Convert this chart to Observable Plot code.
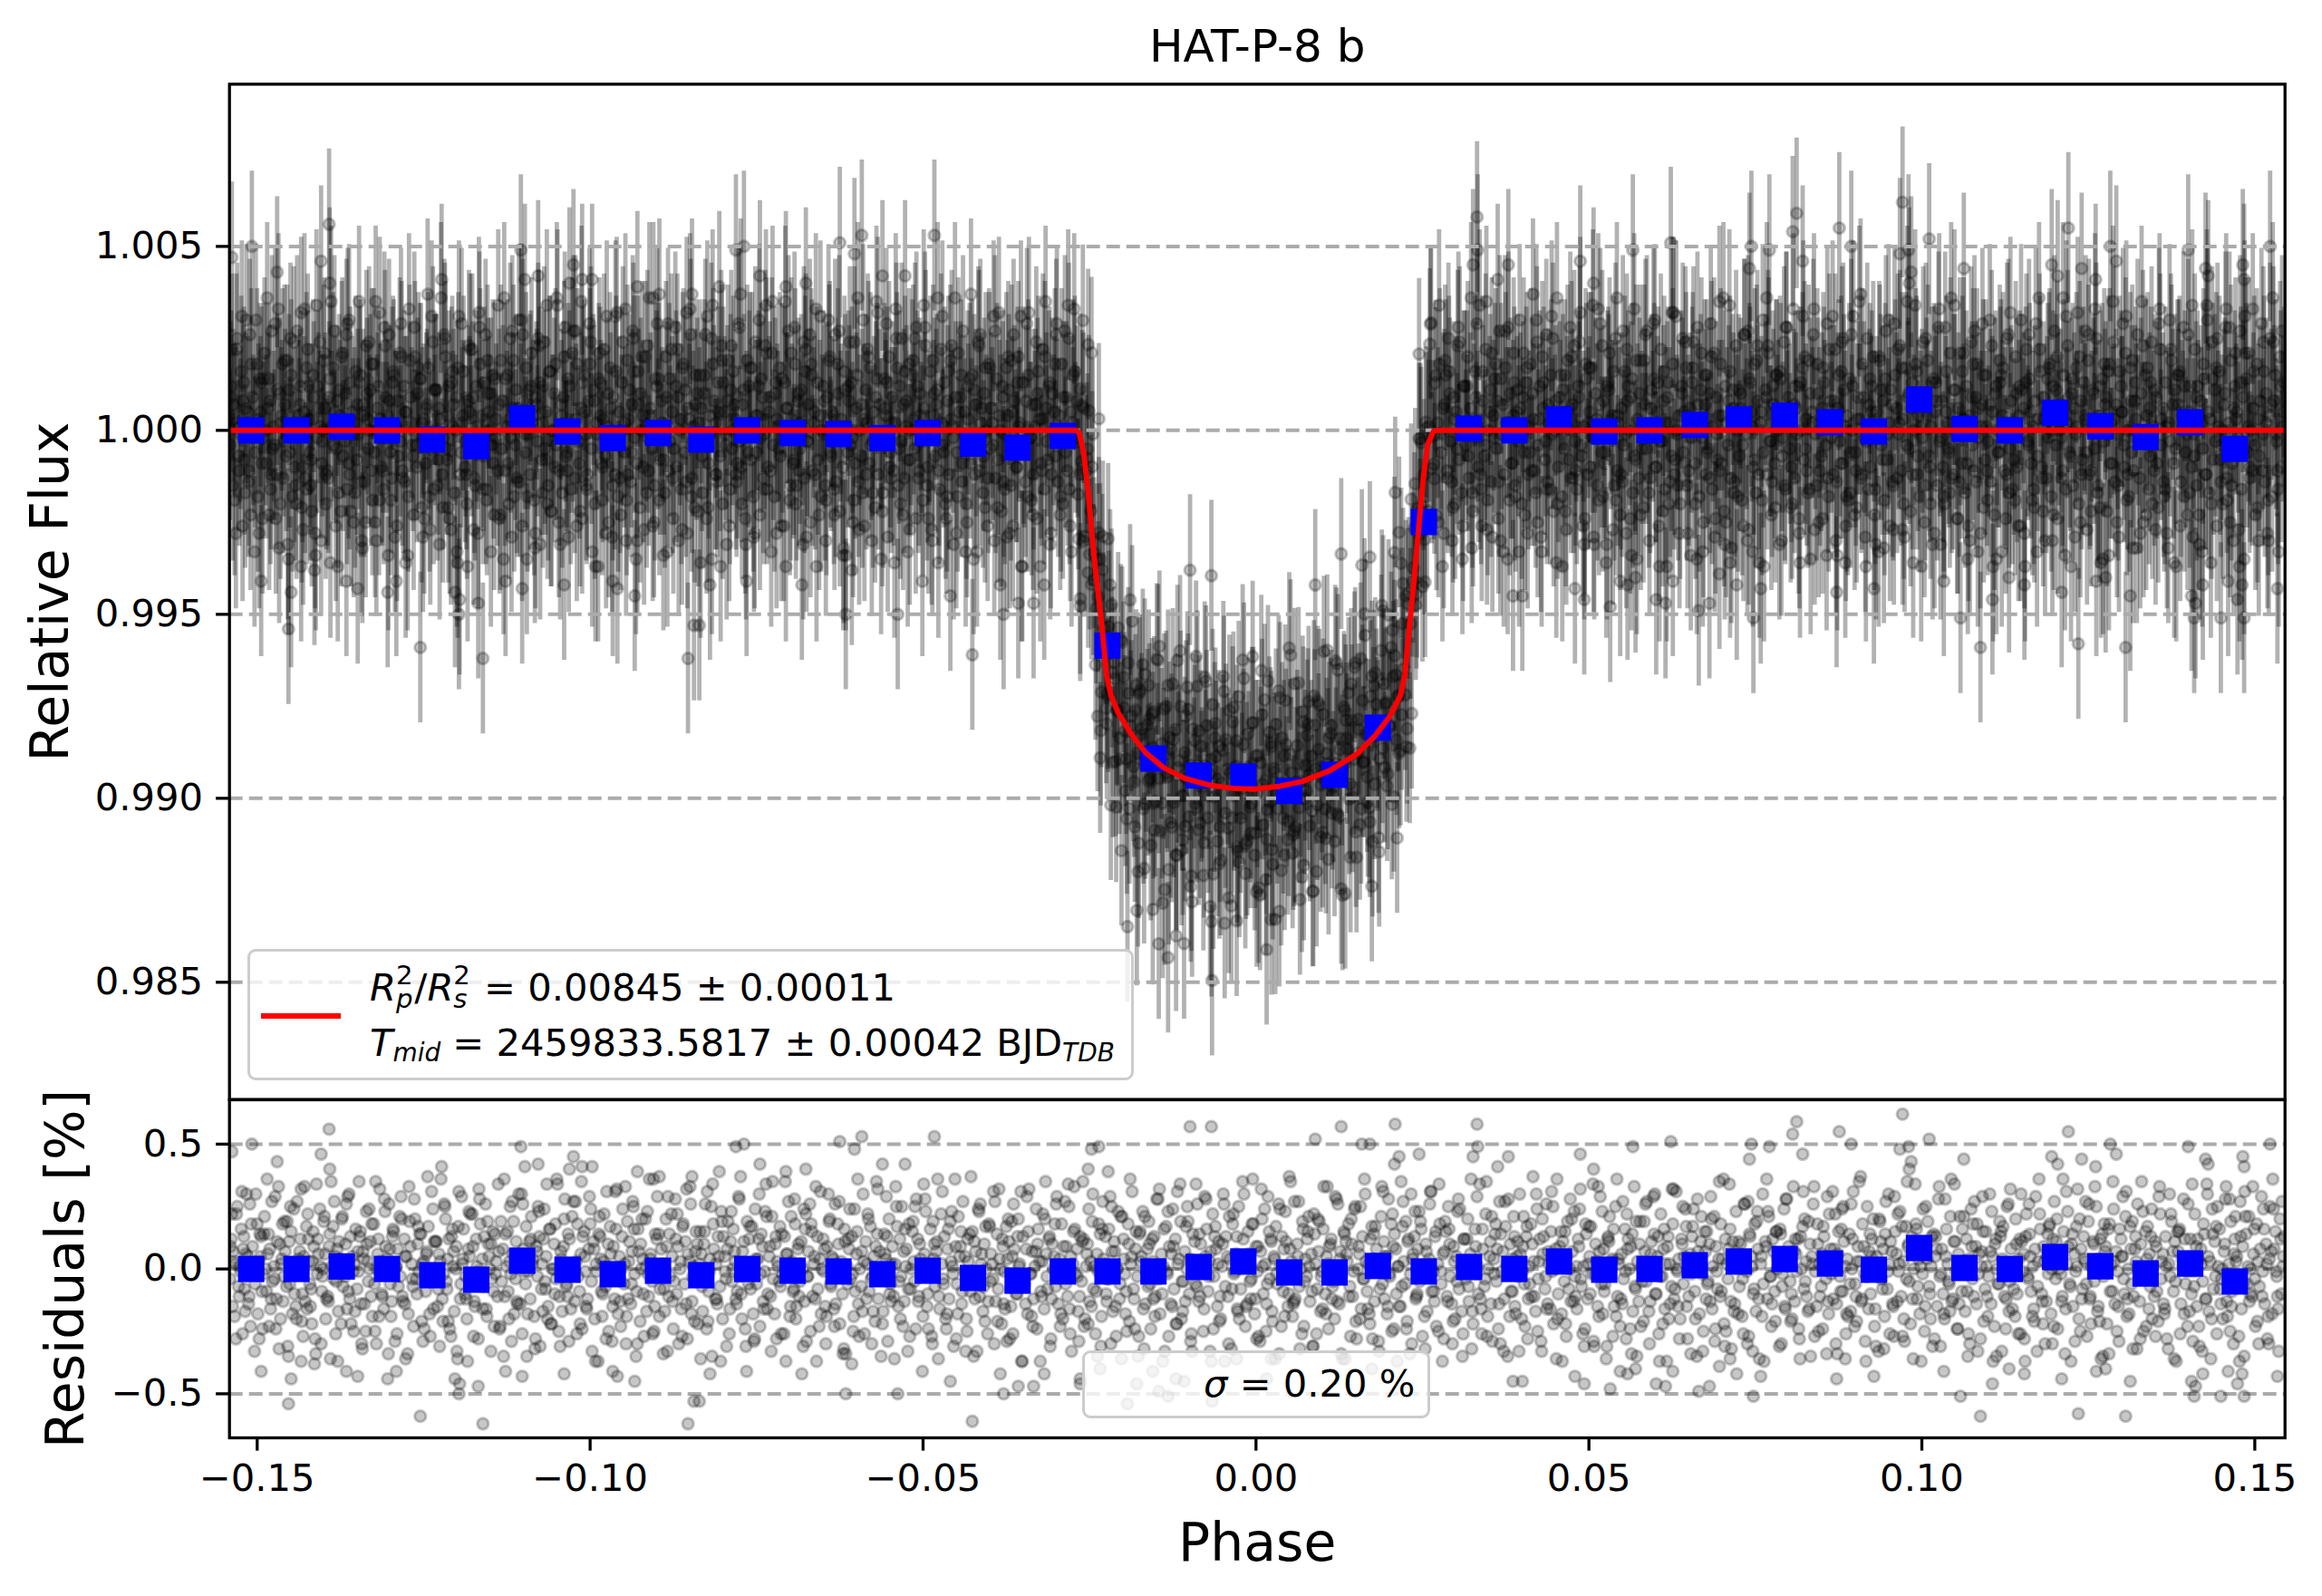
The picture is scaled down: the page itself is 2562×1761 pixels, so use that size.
<!DOCTYPE html>
<html><head><meta charset="utf-8">
<script src="https://cdn.jsdelivr.net/npm/d3@7"></script>
<script src="https://cdn.jsdelivr.net/npm/@observablehq/plot@0.6"></script>
<style>
html,body{margin:0;padding:0;background:#fff}
#wrap{position:relative;width:2562px;height:1761px;font-family:"DejaVu Sans";overflow:hidden}
#wrap svg{position:absolute;left:0;background:transparent;overflow:visible;max-width:none;font-family:"DejaVu Sans"}
.box{position:absolute;box-sizing:border-box;border:3.3px solid #ccc;border-radius:9px;background:rgba(255,255,255,.8)}
.t{position:absolute;font-size:41.67px;line-height:1.164;white-space:nowrap;color:#000}
.st{display:inline-block;width:.49em;height:0;position:relative}
.st span{position:absolute;left:0;font-size:.7em}
.st .u{top:-1.52em}.st .d{top:-.62em;font-style:italic}
.s{font-size:.67em;font-style:italic;position:relative;top:.22em}
</style></head><body><div id="wrap"></div>
<script>
const titleText = "HAT-P-8 b", xLabel = "Phase", yLabelTop = "Relative Flux", yLabelBottom = "Residuals [%]";
const xTicks = [-0.15,-0.10,-0.05,0,0.05,0.10,0.15];
const yTicksTop = [0.985,0.990,0.995,1.000,1.005];
const yTicksBottom = [-0.5,0,0.5];
const xDomain = [-0.15416,0.15454], yDomainTop = [0.981813,1.009409], yDomainBottom = [-0.6765,0.6776];

// transit model
const modelPhase = [-0.15416,-0.02699,-0.02654,-0.02586,-0.02518,-0.0245,-0.02382,-0.02314,-0.02246,-0.02178,-0.02065,-0.01883,-0.01658,-0.01386,-0.01068,-0.00707,-0.00344,-0.00027,0.00336,0.00698,0.01106,0.01514,0.01785,0.02011,0.0217,0.02238,0.02306,0.02374,0.02442,0.02509,0.02577,0.02668,0.0273,0.15454];
const modelFlux = [1,1,0.99994,0.99937,0.9983,0.9969,0.99576,0.99469,0.99337,0.9928,0.99231,0.99177,0.99124,0.99083,0.99054,0.99036,0.99027,0.99025,0.99032,0.99046,0.99075,0.9912,0.99169,0.99223,0.9928,0.99337,0.99469,0.99592,0.99732,0.99863,0.99961,0.99998,1,1];

// binned points (blue squares)
const binPhase = [-0.1509,-0.1441,-0.1373,-0.1305,-0.1237,-0.1171,-0.1102,-0.1034,-0.0966,-0.0898,-0.0833,-0.0764,-0.0696,-0.0627,-0.0561,-0.0493,-0.0425,-0.0358,-0.0290,-0.0223,-0.0154,-0.0086,-0.0019,0.0050,0.0118,0.0183,0.0252,0.0320,0.0388,0.0455,0.0523,0.0591,0.0659,0.0725,0.0794,0.0862,0.0928,0.0996,0.1064,0.1132,0.1200,0.1268,0.1336,0.1403,0.1470];
const binFlux = [1.00000,1.00000,1.00010,1.00000,0.99975,0.99957,1.00033,0.99997,0.99979,0.99993,0.99975,1.00000,0.99993,0.99990,0.99979,0.99993,0.99964,0.99953,0.99985,0.99415,0.99108,0.99062,0.99059,0.99020,0.99064,0.99192,0.99751,1.00005,1.00000,1.00030,0.99997,1.00000,1.00015,1.00030,1.00040,1.00022,0.99997,1.00084,1.00004,1.00000,1.00048,1.00011,0.99982,1.00022,0.99950];
const binResidual = [0,0,0.01,0,-0.025,-0.043,0.033,-0.003,-0.021,-0.007,-0.025,0,-0.007,-0.01,-0.021,-0.007,-0.036,-0.047,-0.01,-0.01,-0.01,0.008,0.03,-0.014,-0.014,0.012,-0.01,0.008,0,0.03,-0.003,0,0.015,0.03,0.04,0.022,-0.003,0.084,0.004,0,0.048,0.011,-0.018,0.022,-0.05];

const fluxError = 0.00205;

// individual points far from the band, read one at a time (phase x 1e4, residual x 100)
const edgePhase = [-1392,-1508,-1538,-1104,-1404,-1453,-1255,-1161,-853,-844,-1197,-1494,-1449,-1414,-1434,-1366,-1349,-1304,-1291,-1203,-1196,-1168,-1127,-1102,-1039,-966,-959,-933,-1470,-1391,-1223,-1098,-1078,-1025,-1031,-1012,-997,-929,-896,-847,-781,-769,-745,-806,-625,-603,-592,-483,-247,-236,-252,-222,-706,-676,-527,-561,-426,-836,-616,-538,-379,-357,-334,-384,-318,-264,-179,-459,-682,-501,-820,-765,-607,-99,-67,128,209,89,159,171,332,333,326,245,379,363,208,215,566,623,487,507,812,806,876,894,744,771,821,741,747,665,681,615,601,532,493,479,386,400,547,558,570,626,696,722,758,872,712,885,971,1220,1011,967,980,1283,1292,1400,1523,1063,984,981,1195,1204,1240,1261,1426,1430,1482,1484,1088,1235,1306,1058,1106,928,1033,1210,1154,1131,1262,1276,1313,1409,1449,1484,1474,1481,1405,1411,1422,1460,1534,-234,-193,-155,-146,-132,-66,-120,-108,16,174,-264,23,-29];
const edgeResidual = [56,50,47,49,46,-54,-59,-62,-62,-53,-50,-41,-44,-38,-37,-41,-43,-44,-41,-44,-46,-47,-41,-43,-42,-41,-43,-45,43,40,41,41,42,45,40,41,41,39,37,37,49,50,42,39,51,48,53,53,48,49,40,39,39,40,42,42,-61,-53,-50,-50,-50,-47,-47,-42,-42,-46,-46,-45,-42,-41,-42,-41,-38,57,57,57,58,52,50,50,58,49,45,46,45,41,42,45,49,51,46,40,59,54,55,50,50,49,46,44,-51,-49,-47,-47,-46,-48,-46,-43,-45,-45,-41,-42,-40,-41,-39,-42,-43,-44,-36,-36,62,55,52,48,49,50,46,49,50,44,43,40,45,42,44,41,44,42,45,41,-59,-58,-59,-51,-46,-43,-41,-44,-42,-40,-41,-40,-45,-51,-51,-51,-46,-42,-45,-47,-42,-41,-43,-40,-54,-41,-49,-51,-53,-44,-45,-44,-40,-44,-36,-36];

// the dense band (phase x 1e4, residual x 100)
const bandPhase = [
-1541,-1539,-1536,-1534,-1533,-1530,-1527,-1525,-1524,-1521,-1519,-1516,-1514,-1513,-1510,-1507,-1506,-1503,-1500,-1498,-1497,-1494,-1491,-1489,-1486,
-1484,-1483,-1480,-1477,-1475,-1472,-1471,-1468,-1466,-1463,-1460,-1459,-1456,-1454,-1452,-1449,-1447,-1444,-1443,-1440,-1437,-1436,-1433,-1430,-1428,
-1426,-1424,-1421,-1420,-1417,-1415,-1412,-1410,-1409,-1406,-1403,-1401,-1398,-1397,-1394,-1391,-1389,-1388,-1385,-1382,-1380,-1378,-1375,-1373,-1371,
-1368,-1367,-1364,-1361,-1359,-1357,-1354,-1352,-1350,-1348,-1346,-1343,-1341,-1339,-1336,-1334,-1333,-1330,-1327,-1325,-1323,-1320,-1319,-1316,-1313,
-1311,-1310,-1307,-1304,-1302,-1300,-1298,-1295,-1293,-1291,-1289,-1286,-1285,-1282,-1279,-1277,-1276,-1273,-1271,-1268,-1266,-1264,-1261,-1259,-1257,
-1254,-1253,-1250,-1247,-1245,-1243,-1240,-1239,-1236,-1233,-1231,-1229,-1227,-1224,-1222,-1220,-1217,-1215,-1214,-1211,-1208,-1206,-1204,-1201,-1200,
-1197,-1194,-1192,-1190,-1188,-1185,-1183,-1181,-1178,-1177,-1174,-1171,-1169,-1168,-1165,-1162,-1160,-1157,-1156,-1153,-1151,-1148,-1146,-1144,-1141,
-1139,-1137,-1134,-1133,-1130,-1127,-1125,-1123,-1120,-1119,-1116,-1114,-1111,-1109,-1107,-1104,-1102,-1100,-1097,-1096,-1093,-1090,-1088,-1086,-1084,
-1081,-1079,-1076,-1075,-1072,-1069,-1067,-1066,-1063,-1060,-1058,-1055,-1054,-1051,-1049,-1046,-1044,-1042,-1039,-1037,-1035,-1032,-1031,-1028,-1025,
-1023,-1021,-1019,-1016,-1014,-1012,-1009,-1007,-1005,-1002,-1001,-998,-995,-993,-991,-988,-987,-984,-981,-979,-977,-974,-972,-970,-968,
-965,-963,-960,-958,-956,-953,-952,-949,-946,-944,-942,-939,-937,-935,-933,-930,-928,-925,-924,-921,-919,-916,-914,-912,-909,
-907,-905,-903,-900,-898,-896,-893,-892,-889,-886,-884,-881,-880,-877,-875,-872,-870,-868,-865,-863,-861,-858,-857,-854,-851,
-849,-847,-845,-842,-840,-838,-835,-833,-831,-829,-826,-824,-822,-820,-817,-815,-812,-811,-808,-805,-803,-801,-798,-797,-794,
-791,-789,-787,-785,-782,-780,-777,-775,-773,-771,-768,-766,-764,-761,-759,-758,-755,-752,-750,-748,-745,-743,-741,-738,-736,
-734,-731,-729,-727,-725,-722,-720,-718,-715,-714,-711,-708,-706,-704,-702,-699,-697,-695,-692,-691,-688,-685,-683,-681,-678,
-676,-674,-672,-669,-667,-664,-662,-661,-658,-655,-653,-650,-649,-646,-644,-641,-639,-637,-634,-632,-630,-627,-625,-623,-621,
-618,-616,-614,-611,-609,-607,-604,-603,-600,-597,-595,-593,-590,-588,-586,-584,-581,-579,-576,-574,-572,-570,-567,-565,-562,
-560,-558,-556,-553,-551,-549,-546,-544,-542,-540,-537,-535,-533,-530,-529,-526,-523,-521,-519,-516,-514,-513,-510,-507,-505,
-503,-500,-498,-496,-493,-491,-489,-487,-484,-482,-479,-478,-475,-472,-470,-468,-465,-463,-461,-459,-456,-454,-451,-449,-447,
-445,-442,-440,-438,-435,-433,-432,-429,-426,-424,-421,-420,-417,-415,-412,-410,-408,-405,-403,-401,-399,-396,-394,-391,-389,
-387,-385,-382,-380,-378,-375,-374,-371,-368,-366,-364,-361,-359,-357,-355,-352,-350,-348,-345,-343,-341,-338,-336,-334,-332,
-329,-327,-325,-323,-320,-318,-315,-314,-311,-308,-306,-304,-301,-299,-297,-295,-292,-290,-288,-285,-283,-281,-278,-277,-274,
-271,-269,-267,-264,-262,-260,-258,-255,-253,-250,-248,-246,-244,-241,-239,-237,-234,-232,-230,-227,-225,-223,-221,-218,-216,
-213,-211,-209,-207,-204,-202,-199,-198,-195,-192,-190,-188,-186,-183,-181,-178,-176,-174,-172,-169,-167,-165,-162,-160,-158,
-155,-153,-151,-149,-146,-144,-142,-139,-137,-135,-133,-130,-128,-125,-123,-121,-119,-116,-114,-111,-110,-107,-104,-102,-100,
-98,-95,-93,-91,-88,-86,-83,-82,-79,-76,-74,-72,-70,-67,-65,-63,-60,-58,-56,-53,-51,-49,-46,-45,-42,
-39,-37,-35,-33,-30,-28,-26,-23,-21,-19,-16,-14,-12,-9,-8,-5,-2,0,2,4,7,9,11,14,16,
18,21,23,25,27,30,32,35,37,39,41,44,46,48,51,53,55,58,59,62,65,67,69,71,74,
76,79,81,83,85,88,90,92,95,97,99,102,104,106,109,110,113,116,118,120,123,125,127,129,132,
134,137,139,141,144,145,148,151,153,155,158,160,162,164,167,169,171,174,176,178,181,183,185,188,190,
192,194,197,199,201,204,206,208,211,213,215,218,219,222,225,227,229,232,234,236,239,240,243,246,248,
250,252,255,257,260,262,264,266,269,271,273,276,278,280,283,285,287,289,292,294,297,299,301,304,305,
308,311,313,315,318,320,322,324,327,329,331,334,336,338,341,343,345,348,349,352,355,357,359,361,364,
366,369,371,373,375,378,380,382,385,387,389,392,394,396,399,401,403,406,408,410,413,414,417,420,422,
424,426,429,431,434,436,438,440,443,445,447,450,452,454,457,459,461,463,466,468,471,473,475,478,479,
482,485,487,489,492,494,496,498,501,503,505,508,510,512,515,517,519,522,523,526,529,531,533,535,538,
540,543,545,547,549,552,554,556,559,561,563,566,568,570,573,575,577,580,582,584,587,588,591,594,596,
598,600,603,605,608,610,612,614,617,619,621,624,626,628,631,633,635,637,640,642,645,647,649,652,653,
656,659,661,663,666,668,670,672,675,677,679,682,684,686,689,691,693,696,697,700,703,705,707,709,712,
714,717,719,721,723,726,728,730,733,735,737,740,742,744,747,749,751,754,756,758,761,762,765,768,770,
772,774,777,779,782,784,786,788,791,793,795,798,800,802,805,807,809,811,814,816,819,821,823,826,827,
830,833,835,837,840,842,844,846,849,851,853,856,858,860,863,865,867,870,871,874,877,879,881,883,886,
888,891,893,895,897,900,902,904,907,909,911,914,916,918,921,923,925,928,930,932,935,936,939,942,944,
946,948,951,953,956,958,960,962,965,967,969,972,974,976,979,981,983,985,988,990,993,995,997,1000,1001,
1004,1007,1009,1011,1014,1016,1018,1020,1023,1025,1027,1030,1032,1034,1037,1039,1041,1044,1045,1048,1051,1053,1055,1057,1060,
1062,1065,1067,1069,1071,1074,1076,1078,1081,1083,1085,1088,1090,1092,1095,1097,1099,1102,1104,1106,1109,1110,1113,1116,1118,
1120,1122,1125,1127,1130,1132,1134,1136,1139,1141,1143,1146,1148,1150,1153,1155,1157,1159,1162,1164,1167,1169,1171,1174,1175,
1178,1181,1183,1185,1188,1190,1192,1194,1197,1199,1201,1204,1206,1208,1211,1213,1215,1218,1219,1222,1225,1227,1229,1231,1234,
1236,1239,1241,1243,1245,1248,1250,1252,1255,1257,1259,1262,1264,1266,1269,1271,1273,1276,1278,1280,1283,1284,1287,1290,1292,
1294,1296,1299,1301,1304,1306,1308,1310,1313,1315,1317,1320,1322,1324,1327,1329,1331,1333,1336,1338,1341,1343,1345,1348,1349,
1352,1355,1357,1359,1362,1364,1366,1368,1371,1373,1375,1378,1380,1382,1385,1387,1389,1392,1393,1396,1399,1401,1403,1405,1408,
1410,1413,1415,1417,1419,1422,1424,1426,1429,1431,1433,1436,1438,1440,1443,1445,1447,1450,1452,1454,1457,1458,1461,1464,1466,
1468,1470,1473,1475,1478,1480,1482,1484,1487,1489,1491,1494,1496,1498,1501,1503,1505,1507,1510,1512,1515,1517,1519,1522,1523,
1526,1529,1531,1533,1536,1538,1540,1542,1544];
const bandResidual = [
-4,12,7,-19,2,25,-11,-1,16,8,-8,30,5,-14,-23,9,0,-6,18,3,-28,13,-2,21,-9,
6,14,-16,-5,1,-24,-12,33,10,4,-3,19,-7,-31,11,15,-18,-10,2,27,-1,7,-21,5,-13,
17,22,-6,-15,3,9,-34,-2,12,24,-9,0,6,-20,-11,14,35,1,-4,-26,8,-17,4,20,-7,
-3,10,29,-12,-22,5,2,16,-8,-1,13,-30,7,-14,23,3,-5,11,-19,18,-25,0,6,32,-10,
-2,-16,9,4,26,-6,-13,15,-29,1,8,21,-3,-11,12,-36,5,-18,19,2,-7,28,-4,10,-1,
14,-21,3,-9,7,17,-27,-5,24,0,11,-15,6,36,-12,-2,20,-8,4,-24,13,1,-17,9,-33,
31,-6,2,16,-10,-20,8,5,-3,22,-13,12,-1,-28,18,4,-7,26,-16,10,0,-4,15,-23,3,
-11,7,19,-5,-35,14,1,-9,25,-2,6,-18,11,-14,30,3,-26,8,-6,17,-1,-12,21,4,-19,
9,-3,13,-31,2,24,-8,5,-15,16,-22,0,10,-4,34,-11,7,-17,20,1,-6,-29,12,-2,27,
-13,3,18,-9,6,-24,15,-1,-16,8,29,-5,11,-20,2,-37,14,4,-10,22,-7,1,-25,17,-3,
9,-12,32,-18,5,0,13,-6,-30,19,3,-14,7,25,-2,-9,16,-21,10,4,-27,1,23,-11,6,
-5,36,-15,12,-1,-19,8,2,-8,20,-33,14,-3,5,-24,28,-10,9,0,-16,17,-6,11,-28,3,
26,-13,1,7,-4,-22,15,6,-17,10,-2,31,-9,4,-35,18,-12,2,13,-7,23,-20,5,-1,8,
-26,11,-5,16,3,-14,29,-3,-10,7,0,-31,19,12,-8,2,-18,24,-6,4,-23,14,9,-1,34,
-16,5,-11,21,-4,10,-28,1,17,-7,-2,13,-37,6,27,-15,3,-9,18,-20,8,-5,11,0,-13,
22,-3,7,-25,15,2,-12,33,-8,4,-18,12,-1,-30,9,19,-6,5,-16,26,-2,10,-22,3,-10,
16,-34,1,8,-4,13,-19,24,6,-14,0,-7,30,-26,11,2,-9,17,-3,5,-21,35,-12,7,-1,
-17,14,4,-29,20,-6,9,-11,2,25,-15,12,-3,-23,7,1,-33,18,-8,15,3,-5,28,-13,10,
-2,-19,6,23,-10,0,16,-27,4,-7,11,36,-16,2,-4,13,-24,8,-12,19,1,-31,9,-6,21,
5,-14,27,-1,-20,12,3,-9,15,-35,7,-3,24,-11,6,-17,10,0,-26,18,-5,2,31,-13,14,
-8,4,-22,9,-1,17,-29,11,-15,5,26,-4,-10,20,2,-37,13,-6,8,-18,32,-2,7,-12,1,
-24,16,3,-9,22,-16,6,-3,12,-28,10,0,-7,29,-14,4,18,-20,-1,9,-11,25,5,-33,15,
-2,8,-17,13,-5,35,-23,1,10,-13,3,19,-8,-26,6,-1,14,-19,27,2,-10,-4,16,-30,7,
11,-15,0,23,-6,-36,12,4,-9,18,-21,2,31,-12,8,-3,-27,15,5,-16,21,-1,-7,10,-24,
3,13,-11,28,-4,-18,6,1,-33,17,-2,9,-14,24,-8,12,-22,4,34,-5,-17,7,0,19,-10,
-29,14,2,-6,26,-13,10,-1,-25,5,16,-9,3,-37,22,-3,8,-15,11,-20,1,30,-7,13,-11,
4,-32,18,-2,6,-16,25,-8,0,12,-23,3,15,-5,-12,36,-18,9,-1,-27,7,20,-10,2,-14,
29,-4,11,-21,5,17,-6,-34,1,13,-9,23,-2,-15,8,3,-19,27,-12,10,-7,0,-26,16,4,
-3,21,-13,6,-31,14,2,-8,19,-17,-1,33,-10,5,-24,9,12,-5,-20,1,26,-14,7,-2,15,
-36,3,18,-7,10,-11,24,-28,0,6,-16,13,-4,30,-9,2,-22,17,4,-13,8,-1,-33,21,-6,
11,5,-18,28,-3,-25,9,14,-10,1,-15,35,-7,3,19,-21,12,-2,-30,6,23,-12,8,-5,16,
-27,0,10,-17,4,31,-9,-1,13,-23,2,18,-6,-37,7,15,-11,25,-3,-14,9,-20,5,28,-8,
1,-26,12,-4,20,-13,6,-32,3,16,-2,-10,34,-16,8,-7,22,-19,0,11,-29,4,14,-5,-24,
27,-1,7,-12,17,-35,2,10,-9,21,-15,5,-3,30,-20,9,-6,13,-28,1,18,-11,3,-17,24,
-4,12,-33,6,-8,26,-14,2,15,-1,-22,8,36,-10,4,-18,11,-5,-27,19,0,-13,7,23,-3,
-16,9,32,-7,1,-24,14,-12,5,17,-2,-31,10,3,-19,29,-6,8,-9,-36,13,21,-1,4,-15,
25,-11,2,-23,6,-4,16,-28,12,0,9,-17,33,-8,3,-13,19,-5,-21,7,27,-2,-30,11,1,
14,-10,5,-26,22,-3,8,-16,-37,13,2,-7,18,-12,31,-1,4,-20,10,-6,24,-15,0,6,-34,
17,-9,3,28,-18,11,-2,-25,7,15,-5,-13,20,1,-29,9,-8,35,-11,4,-22,12,2,-4,16,
-32,6,-14,23,0,-7,10,-19,26,3,-1,-27,13,5,-10,18,-17,8,-36,2,30,-6,11,-12,21,
-3,-23,7,-9,15,4,-31,14,-2,24,-16,1,9,-5,-20,33,-13,6,12,-28,0,17,-8,3,-11,
19,-35,5,26,-1,-15,10,2,-7,-24,13,-4,29,-18,8,1,-12,22,-30,6,-3,16,-9,11,-26,
4,14,-17,0,31,-6,-21,9,3,-13,18,-2,-37,25,7,-10,12,1,-16,5,-33,20,-4,8,-19,
27,-8,2,11,-14,-27,15,6,-1,23,-11,3,-29,17,9,-5,-22,13,0,34,-12,4,-18,7,-2,
-25,10,19,-7,1,-31,14,5,-15,28,-3,8,-10,-20,16,2,-6,36,-13,11,-1,-24,6,21,-9,
3,-17,12,-35,4,24,-4,-11,9,18,-2,-28,7,15,-8,1,-19,30,-14,5,-23,10,0,-6,13,
-33,17,2,-12,26,-5,8,-16,-1,20,-10,4,-26,11,6,-37,22,-3,14,-9,1,-21,29,-7,3,
16,-13,9,-30,5,-2,18,-18,12,27,-4,-24,0,7,-11,15,-34,2,23,-6,10,-15,6,-1,32,
-20,8,-8,13,3,-27,19,-12,1,11,-5,25,-17,4,-36,14,-3,9,-22,16,-9,2,35,-14,7,
-1,-29,12,5,-10,21,-19,0,17,-6,-32,8,3,26,-13,10,-2,-25,15,4,-16,-7,24,1,-11,
9,-21,33,-4,6,-18,13,-28,2,-3,19,-9,11,-37,7,16,-14,1,28,-6,-23,5,12,-10,-1,
22,-15,4,-31,8,-5,14,-12,30,-17,3,24,-8,11,-26,1,16,-4,-20,7,33,-13,2,19,-9,
-30,12,5,-2,27,-16,9,-35,14,-6,21,0,-11,6,-23,18,3,-7,29,-1,-14,10,-28,4,25,
-18,8,15,-3,-33,20,-10,1,13,-5,36,-21,7,-12,2,17,-27,11,-8,4,23,-15,6,-1,-24,
10,31,-6,-19,3,14,-31,8,-2,26,-12,5,-9,18,-36,1,22,-16,12,-4,7,-25,15,2,-7];

// second pass over the band (phase x 1e4, residual x 100)
const bandPhase2 = [
-1540,-1537,-1535,-1531,-1528,-1526,-1522,-1520,-1517,-1512,-1509,-1505,-1502,-1499,-1495,-1493,-1490,-1487,-1482,-1481,-1478,-1474,-1470,-1467,-1464,
-1461,-1458,-1455,-1451,-1448,-1445,-1441,-1438,-1435,-1432,-1429,-1425,-1422,-1419,-1416,-1413,-1408,-1405,-1402,-1399,-1396,-1392,-1390,-1386,-1383,
-1381,-1377,-1374,-1370,-1366,-1363,-1360,-1356,-1353,-1349,-1347,-1344,-1340,-1337,-1335,-1331,-1328,-1324,-1321,-1318,-1315,-1312,-1308,-1305,-1301,
-1299,-1296,-1292,-1288,-1284,-1281,-1278,-1274,-1270,-1267,-1263,-1260,-1256,-1252,-1249,-1246,-1242,-1238,-1235,-1232,-1228,-1225,-1221,-1218,-1216,
-1212,-1209,-1205,-1202,-1198,-1195,-1191,-1187,-1184,-1180,-1176,-1173,-1170,-1166,-1163,-1159,-1155,-1152,-1149,-1145,-1142,-1138,-1135,-1131,-1128,
-1124,-1121,-1118,-1115,-1112,-1108,-1105,-1101,-1098,-1094,-1091,-1087,-1083,-1080,-1077,-1073,-1070,-1068,-1064,-1061,-1057,-1053,-1050,-1047,-1043,
-1040,-1036,-1033,-1029,-1026,-1022,-1018,-1015,-1011,-1008,-1004,-1000,-997,-994,-990,-986,-983,-980,-976,-973,-969,-966,-962,-959,-955,
-951,-948,-945,-941,-938,-934,-931,-927,-923,-920,-917,-913,-910,-906,-902,-899,-895,-891,-888,-885,-882,-878,-874,-871,-867,
-864,-860,-856,-853,-850,-846,-843,-839,-836,-832,-828,-825,-821,-818,-814,-810,-807,-804,-800,-796,-793,-790,-786,-783,-779,
-776,-772,-769,-765,-762,-757,-754,-751,-747,-744,-740,-737,-733,-730,-726,-723,-719,-716,-712,-709,-705,-701,-698,-694,-690,
-687,-684,-680,-677,-673,-670,-666,-663,-659,-656,-652,-648,-645,-642,-638,-635,-631,-628,-624,-620,-617,-613,-610,-606,-602,
-599,-596,-592,-589,-585,-582,-578,-575,-571,-568,-564,-561,-557,-554,-550,-547,-543,-539,-536,-532,-528,-525,-522,-518,-515,
-511,-508,-504,-501,-497,-494,-490,-486,-483,-480,-476,-473,-469,-466,-462,-458,-455,-452,-448,-444,-441,-437,-434,-430,-427,
-423,-419,-416,-413,-409,-406,-402,-398,-395,-392,-388,-384,-381,-377,-373,-370,-367,-363,-360,-356,-353,-349,-346,-342,-339,
-335,-331,-328,-324,-321,-317,-313,-310,-307,-303,-300,-296,-293,-289,-286,-282,-279,-275,-272,-268,-265,-261,-257,-254,-251,
-247,-243,-240,-236,-233,-229,-226,-222,-219,-215,-212,-208,-205,-201,-197,-194,-191,-187,-184,-180,-177,-173,-170,-166,-163,
-159,-156,-152,-148,-145,-141,-138,-134,-131,-127,-124,-120,-117,-113,-109,-106,-103,-99,-96,-92,-89,-85,-81,-78,-75,
-71,-68,-64,-61,-57,-54,-50,-47,-43,-40,-36,-32,-29,-25,-22,-18,-15,-11,-7,-4,-1,3,6,10,13,
17,20,24,28,31,34,38,42,45,49,52,56,60,63,66,70,73,77,80,84,87,91,94,98,101,
105,108,112,115,119,122,126,130,133,136,140,143,147,150,154,157,161,165,168,172,175,179,182,186,189,
193,196,200,203,207,210,214,217,221,224,228,231,235,238,242,245,249,253,256,259,263,267,270,274,277,
281,284,288,291,295,298,302,306,309,312,316,319,323,326,330,333,337,340,344,347,351,354,358,362,365,
368,372,376,379,383,386,390,393,397,400,404,407,411,415,418,421,425,428,432,435,439,442,446,449,453,
456,460,464,467,470,474,477,481,484,488,491,495,499,502,506,509,513,516,520,524,527,530,534,537,541,
544,548,551,555,558,562,565,569,572,576,579,583,586,590,593,597,601,604,607,611,615,618,622,625,629,
632,636,639,643,646,650,654,657,660,664,667,671,674,678,681,685,688,692,695,699,702,706,710,713,716,
720,724,727,731,734,738,741,745,748,752,755,759,763,766,769,773,776,780,783,787,790,794,797,801,804,
808,812,815,818,822,825,829,832,836,839,843,847,850,854,857,861,864,868,872,875,878,882,885,889,892,
896,899,903,906,910,913,917,920,924,927,931,934,938,941,945,949,952,955,959,963,966,970,973,977,980,
984,987,991,994,998,1002,1005,1008,1012,1015,1019,1022,1026,1029,1033,1036,1040,1043,1047,1050,1054,1058,1061,1064,1068,
1072,1075,1079,1082,1086,1089,1093,1096,1100,1103,1107,1111,1114,1117,1121,1124,1128,1131,1135,1138,1142,1145,1149,1152,1156,
1160,1163,1166,1170,1173,1177,1180,1184,1187,1191,1195,1198,1202,1205,1209,1212,1216,1220,1223,1226,1230,1233,1237,1240,1244,
1247,1251,1254,1258,1261,1265,1268,1272,1275,1279,1282,1286,1289,1293,1297,1300,1303,1307,1311,1314,1318,1321,1325,1328,1332,
1335,1339,1342,1346,1350,1353,1356,1360,1363,1367,1370,1374,1377,1381,1384,1388,1391,1395,1398,1402,1406,1409,1412,1416,1420,
1423,1427,1430,1434,1437,1441,1444,1448,1451,1455,1459,1462,1465,1469,1472,1476,1479,1483,1486,1490,1493,1497,1500,1504,1508,
1511,1514,1518,1521,1525,1528,1532,1535,1539,1543];
const bandResidual2 = [
9,-15,3,22,-7,1,-26,13,6,-11,18,-2,30,-18,5,-9,14,0,-23,8,27,-4,11,-32,2,
-13,7,19,-6,-1,24,-20,4,12,-10,33,-16,3,-8,15,-28,6,1,-3,21,-12,9,-36,17,5,
-5,11,-22,2,26,-9,13,-1,-17,7,35,-14,4,-25,10,0,18,-6,-30,12,3,-11,23,-2,8,
-19,16,1,-7,29,-13,5,-34,9,-4,20,-10,14,2,-24,6,-1,31,-16,11,-8,3,-21,25,-5,
12,-27,7,0,17,-12,4,-3,-37,22,9,-15,1,28,-6,13,-19,5,10,-9,-2,34,-23,8,-11,
15,3,-29,19,-4,6,-14,26,-1,-18,11,2,-32,7,23,-8,12,-5,-20,16,0,-10,36,-25,4,
9,-7,14,-16,1,27,-3,-22,13,5,-12,18,-33,8,-1,21,-9,3,-28,10,6,-15,31,-4,-13,
24,2,-19,11,-6,16,-35,7,0,-10,20,-2,4,-26,14,29,-8,1,-17,9,-11,22,-5,12,-30,
3,18,-14,6,33,-3,-21,10,2,-7,15,-24,-1,25,8,-12,5,-37,13,-4,19,-16,0,7,-9,
28,-20,11,1,-6,17,-29,4,12,-2,-13,23,-10,9,35,-18,3,-5,14,-26,6,-1,21,-8,-15,
10,2,-31,16,-3,26,-11,5,13,-23,0,8,-19,30,-7,4,-14,18,1,-34,11,-6,24,-2,-9,
15,-27,7,3,-12,20,-4,-17,9,32,-1,-22,6,13,-10,2,-36,17,-5,25,-13,8,-8,0,19,
-24,12,4,-3,28,-15,1,-30,10,7,-11,22,-6,-20,16,3,-2,36,-18,9,-9,5,-25,14,-1,
11,-33,23,2,-7,17,-13,6,-4,27,-21,0,12,-16,4,-28,19,8,-10,1,31,-5,-14,15,-2,
-23,7,10,-37,3,20,-8,13,-12,5,26,-1,-18,9,-6,34,-26,2,16,-3,-11,11,-20,6,24,
-15,1,-9,18,-31,4,13,-4,29,-17,7,0,-12,21,-2,-25,10,5,-8,15,-35,3,23,-14,8,
-6,12,-19,1,32,-10,16,-1,-27,6,9,-22,2,19,-5,-13,25,4,-33,11,-7,14,0,-16,28,
-3,7,-24,17,2,-11,10,-37,5,21,-8,-1,13,-20,3,30,-15,6,-4,18,-12,9,-29,1,24,
-6,15,-17,4,-2,26,-23,8,11,-10,35,-14,0,5,-32,19,-5,12,1,-9,22,-26,7,-3,16,
-18,2,10,-7,29,-13,4,-36,14,6,-11,20,-1,-21,9,25,-4,3,-16,12,-28,17,0,-8,33,
-12,5,-2,18,-24,8,1,-15,27,-6,11,-34,4,13,-10,23,-3,-19,7,2,31,-9,15,-25,-1,
6,19,-13,10,-30,3,-5,24,-17,12,0,-7,36,-22,9,1,-12,16,-4,-27,5,21,-2,8,-14,
14,-33,2,28,-9,4,-18,11,6,-1,-23,17,-6,10,-11,30,3,-29,13,-3,7,-16,25,0,-20,
9,-37,15,5,-8,20,-13,1,12,-4,-26,18,2,-10,34,-2,-15,7,23,-6,-31,11,3,16,-19,
4,-12,27,-1,8,-24,14,-7,-35,10,1,19,-5,-17,6,29,-10,13,-3,-22,2,9,-14,32,-8,
0,-28,12,5,17,-11,-2,24,-20,7,3,-33,15,-6,10,-16,21,-1,4,-9,36,-25,8,-13,11,
2,-18,6,-4,26,-30,14,1,-8,19,-12,5,-37,9,23,-3,12,-21,0,16,-7,-15,28,3,-10,
7,-1,-24,13,31,-5,-17,10,2,-27,18,-11,6,4,-34,22,-2,8,-14,15,-9,25,1,-19,-6,
12,-23,3,35,-12,9,-3,-16,5,20,-31,0,11,-8,14,-1,-26,7,29,-13,2,17,-20,-4,10,
6,-36,18,-7,1,24,-15,4,-10,13,-28,8,33,-2,-18,5,-5,21,-12,11,-24,0,16,3,-9,
-30,9,27,-14,6,1,-21,15,-3,7,-37,12,-6,19,4,-11,25,-17,2,-8,10,-26,30,-1,13,
-4,5,-19,8,-33,22,-10,3,-13,17,0,-23,11,6,-2,36,-16,9,-7,14,-29,1,20,-12,4,
-6,26,-22,10,2,-15,12,-35,7,-1,18,-9,3,-25,16,5,-4,31,-18,8,-11,13,0,-28,23,
-2,17,6,-20,11,-9,29,3,-14,1,-32,22,7,-5,15,-26,4,12,-1,-17,34,-7,9,-23,2,
18,-12,5,-36,14,-3,25,-8,0,10,-19,28,-15,6,3,-27,13,-6,21,1,-10,33,-4,-21,8,
-11,16,2,-30,7,24,-1,-16,12,5,-9,37,-24,4,19,-13,0,27,-6,10,-20,3,14,-33,8];

// third pass, mostly the outer part of the band (phase x 1e4, residual x 100)
const bandPhase3 = [
-1538,-1532,-1523,-1518,-1511,-1504,-1496,-1492,-1485,-1479,-1473,-1465,-1462,-1453,-1450,-1442,-1434,-1431,-1423,-1418,-1411,-1404,-1400,-1393,-1384,
-1379,-1372,-1365,-1362,-1355,-1345,-1342,-1332,-1329,-1322,-1317,-1309,-1303,-1297,-1290,-1283,-1278,-1272,-1265,-1258,-1251,-1244,-1241,-1234,-1226,
-1219,-1213,-1207,-1199,-1193,-1186,-1182,-1175,-1167,-1161,-1154,-1149,-1143,-1136,-1129,-1122,-1117,-1110,-1103,-1095,-1089,-1082,-1078,-1071,-1065,
-1059,-1052,-1045,-1038,-1034,-1027,-1020,-1013,-1006,-999,-992,-985,-982,-975,-967,-961,-954,-947,-943,-936,-929,-922,-915,-911,-904,-897,-890,-883,-876,-869,
-862,-855,-848,-841,-834,-827,-823,-816,-809,-802,-795,-788,-781,-774,-767,-760,-753,-746,-739,-735,-728,-721,-713,-707,-700,-693,-686,-679,-675,-668,
-660,-654,-647,-640,-633,-626,-619,-612,-605,-598,-591,-583,-577,-569,-563,-555,-548,-541,-534,-527,-520,-512,-506,-499,-492,
-485,-477,-471,-464,-457,-450,-443,-436,-428,-422,-414,-407,-400,-393,-386,-379,-372,-365,-358,-351,-344,-337,-330,-322,-316,
-309,-302,-294,-287,-280,-273,-266,-259,-252,-245,-238,-231,-224,-217,-210,-203,-196,-189,-182,-175,-168,-161,-154,-147,-140,
-132,-126,-118,-112,-105,-97,-90,-84,-77,-69,-62,-55,-48,-41,-34,-27,-20,-13,-6,1,8,15,22,29,36,
43,50,57,64,72,78,86,93,100,107,114,121,128,135,142,149,156,163,170,177,184,191,198,205,212,
220,226,233,241,247,254,261,268,275,282,290,296,303,310,317,325,332,339,346,353,360,367,374,381,388,
395,402,409,416,423,430,437,444,451,458,465,472,480,486,493,500,507,514,521,528,536,542,550,557,564,
571,578,585,592,599,606,613,620,627,634,641,648,655,662,669,676,683,690,698,704,711,718,725,732,739,
746,753,760,767,775,781,789,796,803,810,817,824,831,838,845,852,859,866,873,880,887,894,901,908,915,
922,929,937,943,950,957,964,971,978,986,992,999,1006,1013,1021,1028,1035,1042,1049,1056,1063,1070,1077,1084,1091,
1098,1105,1112,1119,1126,1133,1140,1147,1154,1161,1168,1176,1182,1189,1196,1203,1210,1217,1224,1232,1238,1246,1253,1260,1267,
1274,1281,1288,1295,1302,1309,1316,1323,1330,1337,1344,1351,1358,1365,1372,1379,1386,1394,1400,1407,1414,1421,1428,1435,1442,
1449,1456,1463,1471,1477,1485,1492,1499,1506,1513,1520,1527,1534,1541];
const bandResidual3 = [
22,-28,31,-17,26,-33,14,-24,36,-12,29,-20,18,-35,25,-15,32,-27,12,-22,34,-30,19,-13,27,
-37,21,-16,30,-25,15,-32,24,-11,35,-19,28,-34,13,-26,20,-14,33,-23,17,-29,37,-18,11,-31,
26,-21,16,-36,29,-12,23,-27,32,-16,19,-33,14,-24,36,-20,27,-13,30,-35,12,-28,25,-17,34,
-22,18,-31,28,-11,21,-26,35,-15,24,-37,13,-19,31,-29,16,-23,33,-12,27,-30,20,-17,36,-25,14,-34,29,-13,22,
-27,32,-18,15,-36,26,-21,34,-14,19,-31,23,-12,37,-24,17,-28,30,-16,21,-33,13,-26,35,-19,28,-11,24,-29,18,-37,31,-15,20,-23,
27,-32,12,-25,36,-17,22,-30,14,-35,29,-13,33,-20,16,-27,25,-11,34,-24,19,-36,31,-18,23,
-28,15,-33,37,-12,26,-21,17,-30,32,-14,20,-26,13,-37,29,-19,24,-11,35,-31,18,-23,27,-16,
33,-29,12,-22,30,-35,16,-13,25,-27,21,-18,36,-24,14,-32,19,-12,28,-37,23,-15,31,-20,17,
-26,34,-11,29,-33,13,-21,26,-30,22,-17,35,-14,18,-28,32,-25,12,-36,24,-19,37,-13,27,-23,
15,-31,20,-16,33,-12,28,-34,11,-27,25,-20,36,-18,14,-29,31,-15,22,-37,17,-24,30,-11,19,
-32,26,-13,34,-28,16,-21,23,-35,12,-17,29,-26,35,-14,18,-30,27,-19,13,-33,21,-12,37,-25,
20,-16,31,-36,15,-22,28,-11,24,-31,17,-29,33,-18,12,-27,36,-14,22,-34,19,-23,26,-13,30,
-37,16,-20,32,-15,25,-28,13,-35,21,-12,29,-24,18,-31,34,-17,11,-26,27,-33,23,-19,36,-14,
15,-30,28,-21,12,-36,20,-16,33,-25,17,-13,31,-34,24,-18,26,-11,37,-29,14,-23,19,-32,30,
-15,22,-27,35,-12,16,-37,25,-20,13,-31,28,-17,34,-14,21,-26,18,-33,29,-11,23,-35,15,-24,
32,-19,12,-28,26,-16,36,-22,14,-30,20,-13,31,-37,17,-25,27,-11,33,-21,18,-34,24,-15,29,
-12,19,-32,35,-23,13,-27,22,-16,30,-36,15,-18,26,-29,12,-33,34,-20,17,-14,28,-25,21,-37,
31,-13,16,-30,24,-19,36,-11,27,-34,18,-22,32,-15];

const phaseUnit = 1e-4, residualUnit = 0.01;
const modelAt = d3.scaleLinear().domain(modelPhase).range(modelFlux);
const pairs = (ps, rs) => d3.range(Math.min(ps.length, rs.length)).map(i => [ps[i], rs[i]]);
const cloud = [
  ...pairs(bandPhase, bandResidual),
  ...pairs(bandPhase2, bandResidual2),
  ...pairs(bandPhase3, bandResidual3),
  ...pairs(edgePhase, edgeResidual)
].map(([p, r]) => {
  const phase = p * phaseUnit, residual = r * residualUnit;
  return {phase, residual, flux: modelAt(phase) + residual / 100};
});
const bins = binPhase.map((phase, i) => ({phase, flux: binFlux[i], residual: binResidual[i]}));
const model = modelPhase.map((phase, i) => ({phase, flux: modelFlux[i]}));

const tickStyle = {tickSize: 14.6, tickPadding: 14.6, fontSize: 41.67, strokeWidth: 3.3, label: null};
const gridStyle = {stroke: "#ababab", strokeWidth: 4, strokeDasharray: "15,7"};
const dotStyle = {r: 6.2, fill: "black", fillOpacity: 0.22, stroke: "black", strokeOpacity: 0.22, strokeWidth: 3, clip: true};
const squareStyle = {symbol: "square", r: 16.4, fill: "#0000ff", stroke: "none", clip: true};

const topPlot = Plot.plot({
  width: 2562, height: 1213, marginTop: 92.4, marginBottom: 0.3, marginLeft: 252.7, marginRight: 41.3,
  x: {domain: xDomain, axis: null},
  y: {domain: yDomainTop, axis: null},
  marks: [
    Plot.ruleX(cloud, {x: "phase", y1: d => d.flux - fluxError, y2: d => d.flux + fluxError, stroke: "black", strokeOpacity: 0.3, strokeWidth: 4.8, clip: true}),
    Plot.dot(cloud, {x: "phase", y: "flux", ...dotStyle}),
    Plot.ruleY(yTicksTop, gridStyle),
    Plot.dot(bins, {x: "phase", y: "flux", ...squareStyle}),
    Plot.line(model, {x: "phase", y: "flux", stroke: "#ff0000", strokeWidth: 6, clip: true}),
    Plot.axisY({ticks: yTicksTop, tickFormat: ".3f", ...tickStyle}),
    Plot.frame({stroke: "black", strokeWidth: 3.3}),
    Plot.text([titleText], {frameAnchor: "top", dy: -25, lineAnchor: "bottom", fontSize: 50}),
    Plot.text([yLabelTop], {frameAnchor: "left", textAnchor: "middle", dx: -197, rotate: -90, fontSize: 58.33})
  ]
});
const bottomPlot = Plot.plot({
  width: 2562, height: 548, marginTop: 0, marginBottom: 175, marginLeft: 252.7, marginRight: 41.3,
  x: {domain: xDomain},
  y: {domain: yDomainBottom},
  marks: [
    Plot.ruleY(yTicksBottom, gridStyle),
    Plot.dot(cloud, {x: "phase", y: "residual", ...dotStyle}),
    Plot.dot(bins, {x: "phase", y: "residual", ...squareStyle}),
    Plot.axisY({ticks: yTicksBottom, tickFormat: ".1f", ...tickStyle}),
    Plot.axisX({ticks: xTicks, tickFormat: ".2f", ...tickStyle}),
    Plot.frame({stroke: "black", strokeWidth: 3.3}),
    Plot.text([xLabel], {frameAnchor: "bottom", lineAnchor: "middle", dy: 117, fontSize: 58.33}),
    Plot.text([yLabelBottom], {frameAnchor: "left", textAnchor: "middle", dx: -180, rotate: -90, fontSize: 58.33})
  ]
});
const wrap = document.getElementById("wrap");
topPlot.style.top = "0px"; bottomPlot.style.top = "1213px";
wrap.append(topPlot, bottomPlot);

const legendHtml = `
<div class="box" style="left:272.7px;top:1046.7px;width:978px;height:145px"></div>
<div style="position:absolute;left:288px;top:1117.7px;width:88px;height:6px;background:#ff0000"></div>
<div class="t" style="left:408px;top:1066px"><i>R</i><span class="st"><span class="u">2</span><span class="d">p</span></span>/<i>R</i><span class="st"><span class="u">2</span><span class="d">s</span></span> = 0.00845 ± 0.00011</div>
<div class="t" style="left:408px;top:1127px"><i>T</i><span class="s">mid</span> = 2459833.5817 ± 0.00042 BJD<span class="s">TDB</span></div>
<div class="box" style="left:1193.5px;top:1490px;width:384px;height:75px"></div>
<div class="t" style="left:1328px;top:1503px"><i>σ</i> = 0.20 %</div>`;
wrap.insertAdjacentHTML("beforeend", legendHtml);
</script></body></html>
